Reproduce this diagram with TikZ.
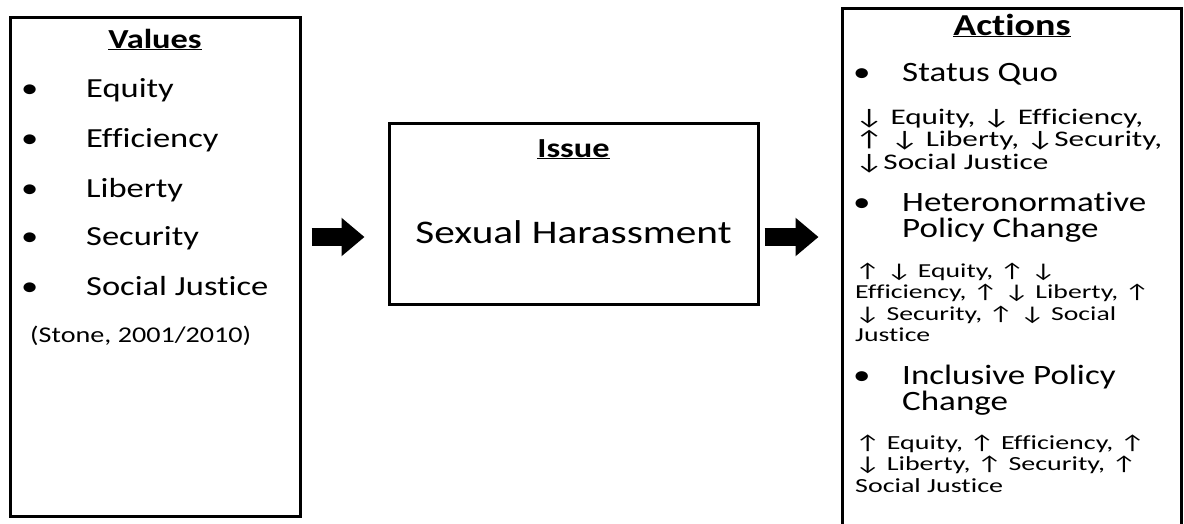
\documentclass[tikz,border=0pt]{standalone}
\usepackage{fontspec}
\setmainfont{Carlito}[FakeStretch=1.25, Ligatures=NoCommon]
\newfontfamily\fxfont{Carlito}[FakeStretch=1.4, Ligatures=NoCommon]
\usepackage{tikz}
\usetikzlibrary{
    arrows.meta,
    positioning,
    calc
}
\tikzset{
    panel/.style={
        draw,
        line width=3pt,
        inner sep=0pt
    }
}
\tikzset{
    blockarrow/.style={
        draw,
        line width=18pt,
        -{Triangle[length=23pt,width=37pt]}
    }
}
\tikzset{
    label/.style={
        inner sep=0pt,
        anchor=base west
    }
}
\tikzset{
    heading/.style={
        inner sep=0pt,
        anchor=base,
        font=\fontsize{27.5}{32}\selectfont\bfseries
    }
}
\tikzset{
    itemtext/.style={
        label,
        font=\fontsize{27.6}{32}\selectfont
    }
}
\tikzset{
    effects/.style={
        label,
        align=left
    }
}
\newcommand{\uarr}{\char"2191}
\newcommand{\darr}{\char"2193}

\begin{document}
\begin{tikzpicture}[x=1pt, y=-1pt]

\clip (0,0) rectangle (1184,523);

% ------------------------------------------------------------
% Panels
% ------------------------------------------------------------

\node[panel, minimum width=290pt, minimum height=499pt] (values) at (155,266.5) {};

\node[panel, minimum width=369pt, minimum height=181pt] (issue) at (573.5,213.5) {};

\node[panel, minimum width=339pt, minimum height=537pt] (actions) at (1011.5,276.5) {};

% ------------------------------------------------------------
% Values
% ------------------------------------------------------------

\node[heading] (valuesTitle) at (155,48) {\underline{Values}};

\foreach \name/\y [count=\i] in {Equity/97, Efficiency/147, Liberty/197, Security/245, Social Justice/295} {
    \node[itemtext] (dot\i) at (21,\y) {•};
    \node[itemtext] (value\i) at (86,\y) {\name};
}

\node[label, font=\fontsize{22.5}{26}\selectfont] (source) at (30,342)
    {(Stone, 2001/2010)};

% ------------------------------------------------------------
% Issue
% ------------------------------------------------------------

\node[heading] (issueTitle) at (573.5,157)
    {\underline{Issue}};

\node[inner sep=0pt, anchor=base, font=\fontsize{33}{40}\selectfont] (issueText) at (573.5,243)
    {Sexual Harassment};

% ------------------------------------------------------------
% Actions (the effects nodes sit on the baseline of their last line)
% ------------------------------------------------------------

\node[heading, font=\fontsize{30.4}{36}\selectfont\bfseries] (actionsTitle) at (1012,35)
    {\underline{Actions}};

\node[itemtext, font=\fontsize{28}{32}\selectfont] (dotA) at (853,81) {•};
\node[itemtext, font=\fontsize{28}{32}\selectfont] (statusQuo) at (902,81) {Status Quo};

\node[effects, font=\fxfont\fontsize{22.3}{22.5}\selectfont] (statusQuoFx) at (855,169)
    {\darr{} Equity, \darr{} Efficiency,\\
     \uarr{} \darr{} Liberty, \darr Security,\\
     \darr Social Justice};

\node[itemtext, font=\fontsize{28}{32}\selectfont] (dotB) at (853,211) {•};
\node[itemtext, font=\fontsize{28}{32}\selectfont] (hetero) at (902,211) {Heteronormative};
\node[itemtext, font=\fontsize{28}{32}\selectfont] (heteroB) at (902,237) {Policy Change};

\node[effects, font=\fxfont\fontsize{19.8}{21.5}\selectfont] (heteroFx) at (855,341.5)
    {\uarr{} \darr{} Equity, \uarr{} \darr\\
     Efficiency, \uarr{} \darr{} Liberty, \uarr\\
     \darr{} Security, \uarr{} \darr{} Social\\
     Justice};

\node[itemtext, font=\fontsize{28}{32}\selectfont] (dotC) at (853,384) {•};
\node[itemtext, font=\fontsize{28}{32}\selectfont] (inclusive) at (902,384) {Inclusive Policy};
\node[itemtext, font=\fontsize{28}{32}\selectfont] (inclusiveB) at (902,410) {Change};

\node[effects, font=\fxfont\fontsize{20}{21.5}\selectfont] (inclusiveFx) at (855,492)
    {\uarr{} Equity, \uarr{} Efficiency, \uarr\\
     \darr{} Liberty, \uarr{} Security, \uarr\\
     Social Justice};

% ------------------------------------------------------------
% Arrows
% ------------------------------------------------------------

\coordinate (arrowrow) at (0,237);

\draw[blockarrow, shorten <=10pt, shorten >=23pt]
    (values.east |- arrowrow) -- (issue.west |- arrowrow);

\draw[blockarrow, shorten <=5pt, shorten >=22pt]
    (issue.east |- arrowrow) -- (actions.west |- arrowrow);

\end{tikzpicture}
\end{document}
